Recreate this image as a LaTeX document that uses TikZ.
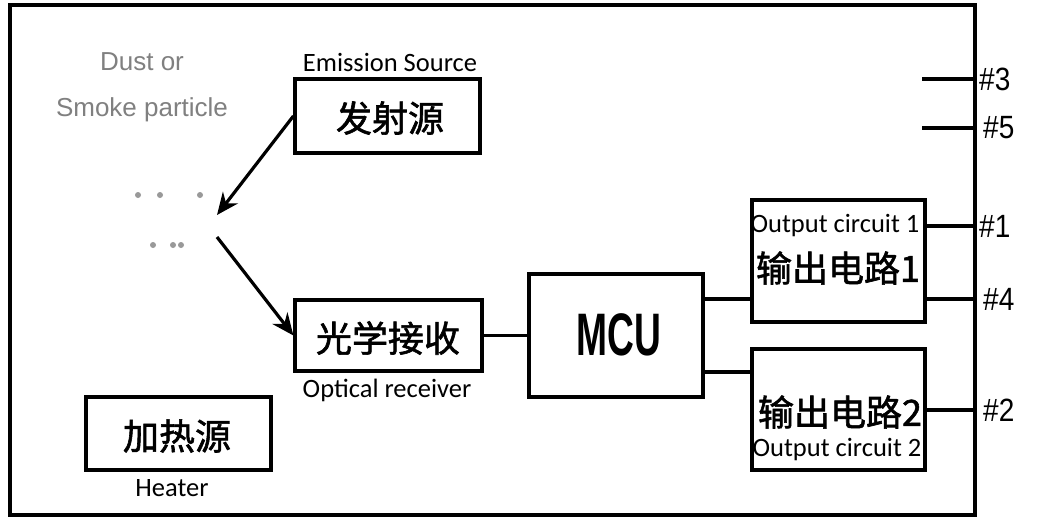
\documentclass[tikz,border=0pt]{standalone}
\usepackage{fontspec}
\setmainfont{Carlito}
\newfontfamily\cjk[FakeBold=1.6]{Noto Sans CJK SC}
\newfontfamily\arialf{Liberation Sans}
\usetikzlibrary{arrows.meta}
\begin{document}
\begin{tikzpicture}[x=1pt,y=-1pt,
  box/.style={draw,line width=3.2pt,inner sep=0pt},
  wire/.style={line width=3.2pt},
  zh/.style={font=\cjk\fontsize{36}{40}\selectfont},
  en/.style={font=\fontsize{26.5}{30}\selectfont,inner sep=0pt},
  pin/.style={font=\arialf\fontsize{28}{32}\selectfont,anchor=west,inner sep=0pt,yscale=1.15},
  grey/.style={font=\arialf\fontsize{26}{30}\selectfont,text=black!50,inner sep=0pt},
  dot/.style={circle,fill=black!40,inner sep=0pt,minimum size=6pt}]
\useasboundingbox (0,0) rectangle (1054,517);
\fill[white] (0,0) rectangle (1054,517);
% frame
\draw[wire] (10,5) rectangle (975,515);
% boxes
\node[box,minimum width=185pt,minimum height=74pt] (fs) at (387.5,116) {};
\node[zh] (fst) at (390,118) {发射源};
\node[box,minimum width=187pt,minimum height=71pt] (rx) at (388.5,335.5) {};
\node[zh] (rxt) at (388,338) {光学接收};
\node[box,minimum width=185pt,minimum height=73pt] (ht) at (178.5,433.5) {};
\node[zh] (htt) at (177,436) {加热源};
\node[box,minimum width=174pt,minimum height=123pt] (mcu) at (616,335.5) {};
\node[font=\arialf\bfseries,inner sep=0pt] (mcut) at (619,335) {\scalebox{0.62}[1]{\fontsize{60}{64}\selectfont MCU}};
\node[box,minimum width=173pt,minimum height=122pt] (oc1) at (838.5,261) {};
\node[zh] (oc1t) at (838,268) {输出电路1};
\node[box,minimum width=173pt,minimum height=121pt] (oc2) at (838.5,409.5) {};
\node[zh] (oc2t) at (840,412) {输出电路2};
% english labels
\node[en] (l1) at (390,62) {Emission Source};
\node[en] (l2) at (387,390) {Optical receiver};
\node[en] (l3) at (172,488) {Heater};
\node[en] (l4) at (835,226) {Output circuit 1};
\node[en] (l5) at (837,450) {Output circuit 2};
% grey labels
\node[grey] (g1) at (142,62) {Dust or};
\node[grey] (g2) at (142,110) {Smoke particle};
% particles
\node[dot] (d1) at (138,195) {};
\node[dot] (d2) at (160,195) {};
\node[dot] (d3) at (200,195) {};
\node[dot] (d4) at (153,245) {};
\node[dot] (d5) at (173,245) {};
\node[dot] (d6) at (181,245) {};
% arrows
\coordinate (a1) at (217,215);
\coordinate (a2) at (217,237);
\draw[wire,-{Stealth[length=22pt,width=19pt]}] (fs.west) -- (a1);
\draw[wire,-{Stealth[length=22pt,width=19pt]}] (a2) -- (rx.west);
% connections
\draw[wire] (rx.east) -- (mcu.west);
\coordinate (p3) at (975,79);
\coordinate (p5) at (975,128);
\coordinate (p1) at (975,226);
\coordinate (p4) at (975,299);
\coordinate (p2) at (975,410);
\draw[wire] (mcu.east |- p4) -- (oc1.west |- p4);
\draw[wire] (mcu.east |- 0,372) -- (oc2.west |- 0,372);
\draw[wire] (oc1.east |- p1) -- (p1);
\draw[wire] (oc1.east |- p4) -- (p4);
\draw[wire] (oc2.east |- p2) -- (p2);
\draw[wire] (922,79) -- (p3);
\draw[wire] (922,128) -- (p5);
% pin labels
\node[pin] (t3) at (979,79) {\#3};
\node[pin] (t5) at (983,128) {\#5};
\node[pin] (t1) at (979,226) {\#1};
\node[pin] (t4) at (983,299) {\#4};
\node[pin] (t2) at (983,410) {\#2};
\end{tikzpicture}
\end{document}
